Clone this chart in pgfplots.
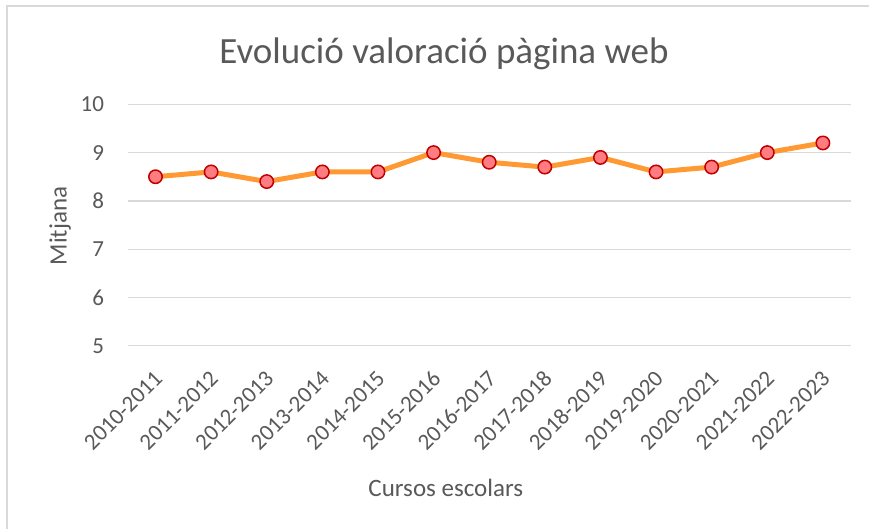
\documentclass[border=0pt]{standalone}
\usepackage{pgfplots}
\pgfplotsset{compat=1.18}
\usepackage{fontspec}
\setmainfont{Carlito}
\definecolor{txt}{HTML}{595959}
\definecolor{gridc}{HTML}{D9D9D9}
\definecolor{linec}{HTML}{FF9933}
\definecolor{mfill}{HTML}{FF7C80}
\definecolor{medge}{HTML}{C00000}
\begin{document}
\begin{tikzpicture}[x=1pt,y=1pt]
\useasboundingbox (0,0) rectangle (869,529);
\begin{scope}
\clip (0,0) rectangle (869,529);
\draw[color=gridc, line width=1.5pt] (7,523) rectangle (900,-20);
\end{scope}
\begin{axis}[
  at={(127.7pt,183.2pt)}, anchor=south west,
  scale only axis, width=723pt, height=241.5pt,
  xmin=-0.5, xmax=12.5, ymin=5, ymax=10,
  xtick={0,...,12},
  xticklabels={2010-2011,2011-2012,2012-2013,2013-2014,2014-2015,2015-2016,2016-2017,2017-2018,2018-2019,2019-2020,2020-2021,2021-2022,2022-2023},
  ytick={5,6,7,8,9,10},
  yticklabels={5,6,7,8,9,10},
  axis line style={draw=none},
  tick style={draw=none},
  major tick length=0pt,
  ymajorgrids,
  grid style={color=gridc, line width=1.3pt},
  ticklabel style={font=\fontsize{23}{27}\selectfont, text=txt},
  yticklabel style={anchor=east, inner sep=0pt, xshift=-23.5pt},
  xticklabel style={rotate=45, anchor=east, inner sep=0pt, xshift=-18.3pt, yshift=-22.7pt},
  title={Evolució valoració pàgina web},
  title style={at={(axis description cs:0.4375,1.146)}, anchor=base, font=\fontsize{37}{44}\selectfont, text=txt},
  xlabel={Cursos escolars},
  every axis x label/.style={at={(axis description cs:0.440,-0.626)}, anchor=base, font=\fontsize{25}{30}\selectfont, text=txt},
  ylabel={Mitjana},
  every axis y label/.style={at={(axis description cs:-0.0846,0.496)}, rotate=90, anchor=base, font=\fontsize{25}{30}\selectfont, text=txt},
  clip=false,
]
\addplot[color=linec, line width=5pt, line join=round, mark=*, mark size=6.7pt,
  mark options={fill=mfill, draw=medge, line width=1.5pt}]
  coordinates {(0,8.5) (1,8.6) (2,8.4) (3,8.6) (4,8.6) (5,9.0) (6,8.8) (7,8.7) (8,8.9) (9,8.6) (10,8.7) (11,9.0) (12,9.2)};
\end{axis}
\end{tikzpicture}
\end{document}
